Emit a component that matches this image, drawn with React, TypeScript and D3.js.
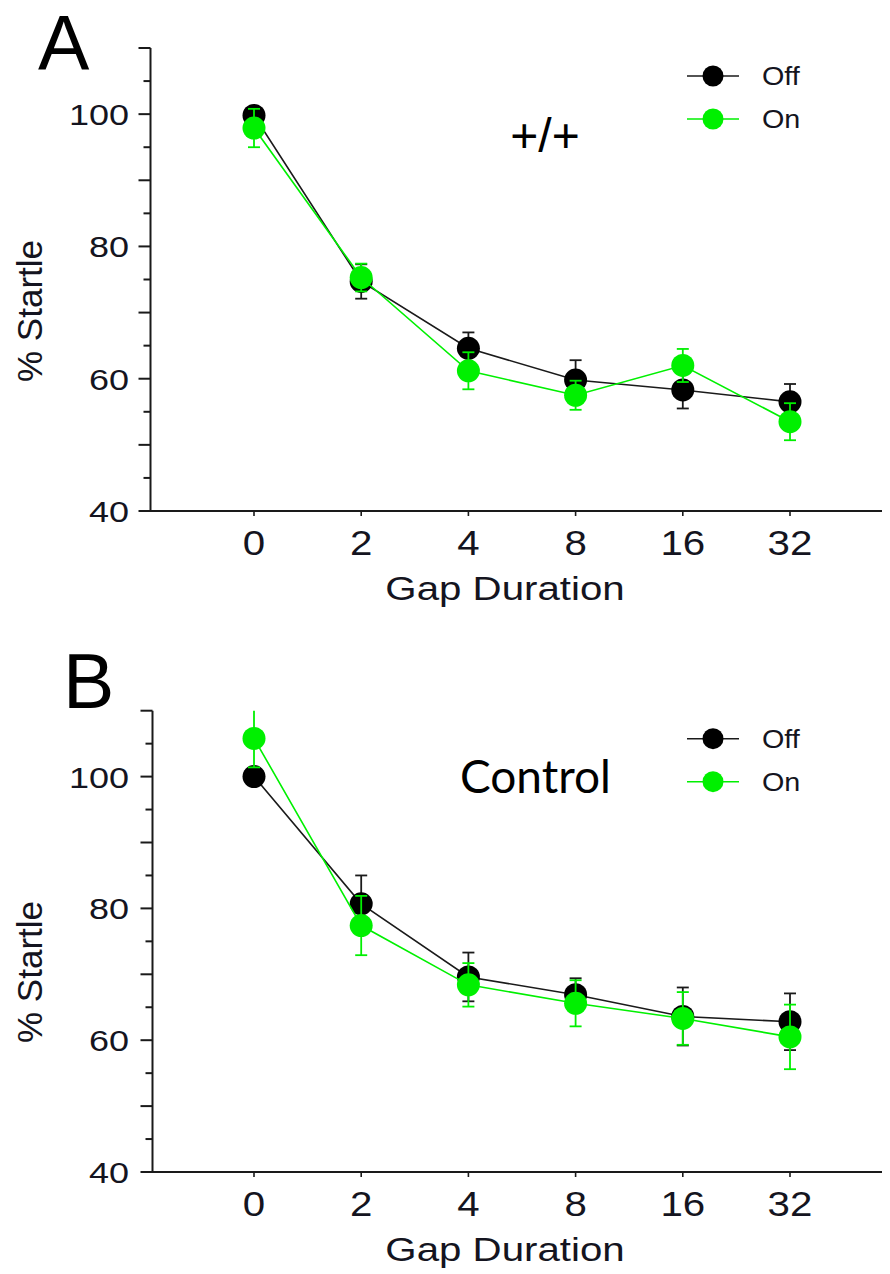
import React from "react";
import * as d3 from "d3";

const gaps = ["0", "2", "4", "8", "16", "32"];

const aOffMean = [99.8, 74.7, 64.6, 59.8, 58.3, 56.5];
const aOffErr = [1.2, 2.6, 2.4, 3.0, 2.8, 2.7];
const aOnMean = [97.9, 75.3, 61.2, 57.5, 62.0, 53.5];
const aOnErr = [2.9, 2.1, 2.8, 2.2, 2.5, 2.8];

const bOffMean = [100.0, 80.7, 69.6, 66.9, 63.6, 62.8];
const bOffErr = [1.0, 4.3, 3.7, 2.5, 4.4, 4.3];
const bOnMean = [105.8, 77.4, 68.4, 65.6, 63.3, 60.5];
const bOnErr = [4.4, 4.5, 3.3, 3.5, 4.0, 4.9];

const yTicks = d3.range(40, 111, 5);
const yLabels = [40, 60, 80, 100];
const seriesNames = ["Off", "On"];

const BLACK = "#1a1a1a";
const GREEN = "#00f000";
const TEXT = "#141420";
const ARIAL = "'Liberation Sans', Arial, sans-serif";
const LATO = "Lato, 'Open Sans', sans-serif";

function SText(props: any) {
  const { x, y, sx = 1.2, anchor = "start", size, family = ARIAL, fill = TEXT, children } = props;
  return (
    <text
      transform={`translate(${x},${y}) scale(${sx},1)`}
      textAnchor={anchor}
      fontSize={size}
      fontFamily={family}
      fill={fill}
    >
      {children}
    </text>
  );
}

function Series(props: any) {
  const { x, y, mean, err, color, lineColor, yMax } = props;
  const line = d3
    .line<number>()
    .x((_, i) => x(gaps[i]))
    .y((d) => y(d));
  const cap = 6;
  return (
    <g>
      <path d={line(mean) || ""} fill="none" stroke={lineColor} strokeWidth={1.6} />
      {mean.map((m: number, i: number) => {
        const cx = x(gaps[i]);
        const hiV = m + err[i];
        const clipped = hiV > yMax;
        const hi = y(Math.min(hiV, yMax));
        const lo = y(m - err[i]);
        return (
          <g key={i}>
            <line x1={cx} x2={cx} y1={hi} y2={lo} stroke={lineColor} strokeWidth={1.8} />
            {!clipped && (
              <line x1={cx - cap} x2={cx + cap} y1={hi} y2={hi} stroke={lineColor} strokeWidth={1.8} />
            )}
            <line x1={cx - cap} x2={cx + cap} y1={lo} y2={lo} stroke={lineColor} strokeWidth={1.8} />
            <circle cx={cx} cy={y(m)} r={11.5} fill={color} />
          </g>
        );
      })}
    </g>
  );
}

function Panel(props: any) {
  const { letter, letterX, letterY, axisX, bottom, top, offMean, offErr, onMean, onErr, label, labelFamily, labelSize, labelX, labelY, labelAnchor, labelSx } = props;
  const yMax = 110;
  const y = d3.scaleLinear().domain([40, yMax]).range([bottom, top]);
  const x = d3.scalePoint<string>().domain(gaps).range([254, 790]);
  const legendY0 = top + 28;
  const legendDy = 43;
  return (
    <g>
      <text x={letterX} y={letterY} fontSize={77} fontFamily={ARIAL} fill="#000">
        {letter}
      </text>
      {/* y axis */}
      <line x1={axisX} x2={axisX} y1={top} y2={bottom + 1} stroke={BLACK} strokeWidth={2} />
      {yTicks.map((t) => (
        <line
          key={t}
          x1={axisX - (t % 10 === 0 ? 12 : 7)}
          x2={axisX}
          y1={y(t)}
          y2={y(t)}
          stroke={BLACK}
          strokeWidth={2}
        />
      ))}
      {yLabels.map((t) => (
        <SText key={t} x={129} y={y(t) + 11} anchor="end" size={30} sx={1.2}>
          {String(t)}
        </SText>
      ))}
      {/* x axis */}
      <line x1={axisX} x2={882} y1={bottom} y2={bottom} stroke={BLACK} strokeWidth={2} />
      {gaps.map((g) => (
        <line key={g} x1={x(g)} x2={x(g)} y1={bottom} y2={bottom + 5} stroke={BLACK} strokeWidth={1.6} />
      ))}
      {gaps.map((g) => (
        <SText key={g} x={x(g)} y={bottom + 44} anchor="middle" size={35} sx={1.15}>
          {g}
        </SText>
      ))}
      <SText x={505} y={bottom + 89} anchor="middle" size={33} sx={1.22}>
        Gap Duration
      </SText>
      <text
        transform={`translate(42,${bottom - 200}) rotate(-90)`}
        textAnchor="middle"
        fontSize={35}
        fontFamily={ARIAL}
        fill={TEXT}
      >
        % Startle
      </text>
      <SText x={labelX} y={labelY} anchor={labelAnchor} size={labelSize} family={labelFamily} fill="#000" sx={labelSx}>
        {label}
      </SText>
      {/* legend */}
      {seriesNames.map((n, i) => {
        const ly = legendY0 + i * legendDy;
        const c = i === 0 ? "#000" : GREEN;
        const lc = i === 0 ? BLACK : GREEN;
        return (
          <g key={n}>
            <line x1={687} x2={739} y1={ly} y2={ly} stroke={lc} strokeWidth={1.6} />
            <circle cx={713} cy={ly} r={10.5} fill={c} />
            <SText x={762} y={ly + 9} size={25} sx={1.15}>
              {n}
            </SText>
          </g>
        );
      })}
      <Series x={x} y={y} mean={offMean} err={offErr} color="#000" lineColor={BLACK} yMax={yMax} />
      <Series x={x} y={y} mean={onMean} err={onErr} color={GREEN} lineColor={GREEN} yMax={yMax} />
    </g>
  );
}

export default function App() {
  return (
    <svg
      width={890}
      height={1274}
      viewBox="0 0 890 1274"
      style={{ position: "absolute", left: 0, top: 0, background: "#fff" }}
    >
      <rect x={0} y={0} width={890} height={1274} fill="#fff" />
      <Panel
        letter="A"
        letterX={38}
        letterY={70}
        axisX={150.5}
        bottom={511}
        top={48}
        offMean={aOffMean}
        offErr={aOffErr}
        onMean={aOnMean}
        onErr={aOnErr}
        label="+/+"
        labelFamily={ARIAL}
        labelSize={48}
        labelX={545}
        labelY={152}
        labelAnchor="middle"
        labelSx={1.0}
      />
      <Panel
        letter="B"
        letterX={63}
        letterY={708}
        axisX={152.5}
        bottom={1172}
        top={710.7}
        offMean={bOffMean}
        offErr={bOffErr}
        onMean={bOnMean}
        onErr={bOnErr}
        label="Control"
        labelFamily={LATO}
        labelSize={46}
        labelX={460}
        labelY={793}
        labelAnchor="start"
        labelSx={1.0}
      />
    </svg>
  );
}
